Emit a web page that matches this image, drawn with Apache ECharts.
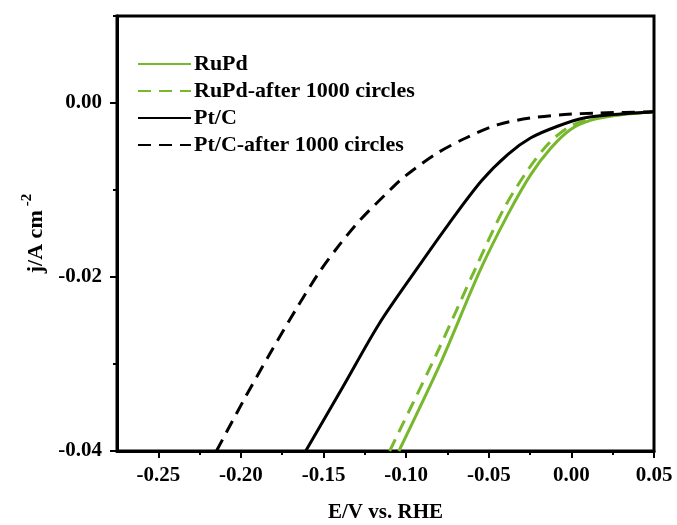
<!DOCTYPE html>
<html>
<head>
<meta charset="utf-8">
<script src="https://cdn.jsdelivr.net/npm/echarts@6/dist/echarts.min.js"></script>
<style>html,body{margin:0;padding:0;background:#fff}#c{width:677px;height:525px}</style>
</head>
<body>
<div id="c"></div>
<script>
const seriesNames = ['RuPd', 'RuPd-after 1000 circles', 'Pt/C', 'Pt/C-after 1000 circles'];
const xTicks = [-0.25, -0.20, -0.15, -0.10, -0.05, 0.00, 0.05];
const yTicks = [-0.04, -0.02, 0.00];

const ruPd = [[-0.1044,-0.0400],[-0.0785,-0.0296],[-0.0554,-0.0193],[-0.0384,-0.0128],[-0.0245,-0.0082],[-0.0125,-0.0052],[-0.0005,-0.00305],[0.0115,-0.0020],[0.0276,-0.00141],[0.0475,-0.00103],[0.05,-0.0010]];
const ruPdAfter = [[-0.1100,-0.0400],[-0.0820,-0.0290],[-0.0580,-0.0190],[-0.0410,-0.0122],[-0.0260,-0.0076],[-0.0135,-0.0046],[-0.0010,-0.0027],[0.0110,-0.0019],[0.0276,-0.00139],[0.0475,-0.00103],[0.05,-0.0010]];
const ptC = [[-0.1608,-0.0400],[-0.1385,-0.0327],[-0.1164,-0.0254],[-0.0944,-0.0193],[-0.0744,-0.01394],[-0.0545,-0.00897],[-0.0384,-0.0059],[-0.0245,-0.0040],[-0.0084,-0.00267],[0.0076,-0.00172],[0.0256,-0.00133],[0.0475,-0.00103],[0.05,-0.0010]];
const ptCAfter = [[-0.2148,-0.0400],[-0.1974,-0.03384],[-0.1824,-0.0288],[-0.1668,-0.02376],[-0.1524,-0.0194],[-0.1404,-0.01631],[-0.1284,-0.01356],[-0.1092,-0.00989],[-0.1014,-0.00852],[-0.0822,-0.00588],[-0.0642,-0.00405],[-0.0444,-0.00248],[-0.0246,-0.00172],[-0.0042,-0.00133],[0.0156,-0.00115],[0.0475,-0.00103],[0.05,-0.0010]];

const GREEN = '#77b82c';
const FONT = '"Liberation Serif", "Times New Roman", serif';
const chart = echarts.init(document.getElementById('c'));

function mk(name, data, color, dashed) {
  return {
    name, type: 'line', data, smooth: 0.3, symbol: 'none',
    lineStyle: { color, width: 3, type: dashed ? [13, 8] : 'solid' },
    itemStyle: { color }
  };
}
const lbl = { fontFamily: FONT, fontWeight: 'bold', fontSize: 21, color: '#000' };

chart.setOption({
  animation: false,
  grid: { left: 117, right: 23, top: 16, bottom: 74, outerBoundsMode: 'none', containLabel: false,
          show: true, borderColor: '#000', borderWidth: 3, backgroundColor: 'transparent' },
  legend: {
    orient: 'vertical', left: 137, top: 53, padding: 0, itemWidth: 53, itemHeight: 14, itemGap: 5,
    itemStyle: { opacity: 0 },
    textStyle: { fontFamily: FONT, fontWeight: 'bold', fontSize: 22, color: '#000', lineHeight: 20, padding: [0, 0, 0, -2] },
    data: seriesNames
  },
  xAxis: [{
    type: 'value', min: -0.275, max: 0.05, interval: 0.025,
    name: 'E/V vs. RHE', nameLocation: 'middle', nameGap: 51,
    nameTextStyle: lbl,
    axisLine: { onZero: false, lineStyle: { color: '#000', width: 3 } },
    axisTick: { show: true, length: 4, lineStyle: { width: 2, color: '#000' } },
    splitLine: { show: false },
    axisLabel: {
      margin: 14, ...lbl,
      showMinLabel: false,
      formatter: v => xTicks.some(t => Math.abs(t - v) < 1e-9) ? v.toFixed(2) : ''
    }
  }, {
    type: 'value', position: 'bottom', min: -0.275, max: 0.05, interval: 0.025,
    axisLine: { show: false, onZero: false },
    axisTick: { show: true, length: 7, lineStyle: { width: 2, color: '#000' }, customValues: xTicks },
    axisLabel: { show: false },
    splitLine: { show: false }
  }],
  yAxis: [{
    type: 'value', min: -0.04, max: 0.01, interval: 0.01,
    name: '{a|j/A cm}{b|-2}', nameLocation: 'middle', nameGap: 68, nameRotate: 90,
    nameTextStyle: {
      rich: {
        a: { ...lbl, fontSize: 22, lineHeight: 28, verticalAlign: 'bottom' },
        b: { ...lbl, fontSize: 15, lineHeight: 28, verticalAlign: 'top', padding: [0, 0, 8, 4] }
      }
    },
    axisLine: { onZero: false, lineStyle: { color: '#000', width: 3 } },
    axisTick: { show: true, length: 4, lineStyle: { width: 2, color: '#000' } },
    splitLine: { show: false },
    axisLabel: {
      margin: 15, ...lbl,
      formatter: v => yTicks.some(t => Math.abs(t - v) < 1e-9) ? v.toFixed(2) : ''
    }
  }, {
    type: 'value', position: 'left', min: -0.04, max: 0.01, interval: 0.01,
    axisLine: { show: false, onZero: false },
    axisTick: { show: true, length: 7, lineStyle: { width: 2, color: '#000' }, customValues: yTicks },
    axisLabel: { show: false },
    splitLine: { show: false }
  }],
  series: [
    mk(seriesNames[0], ruPd, GREEN, false),
    mk(seriesNames[1], ruPdAfter, GREEN, true),
    mk(seriesNames[2], ptC, '#000', false),
    mk(seriesNames[3], ptCAfter, '#000', true)
  ]
});
</script>
</body>
</html>
